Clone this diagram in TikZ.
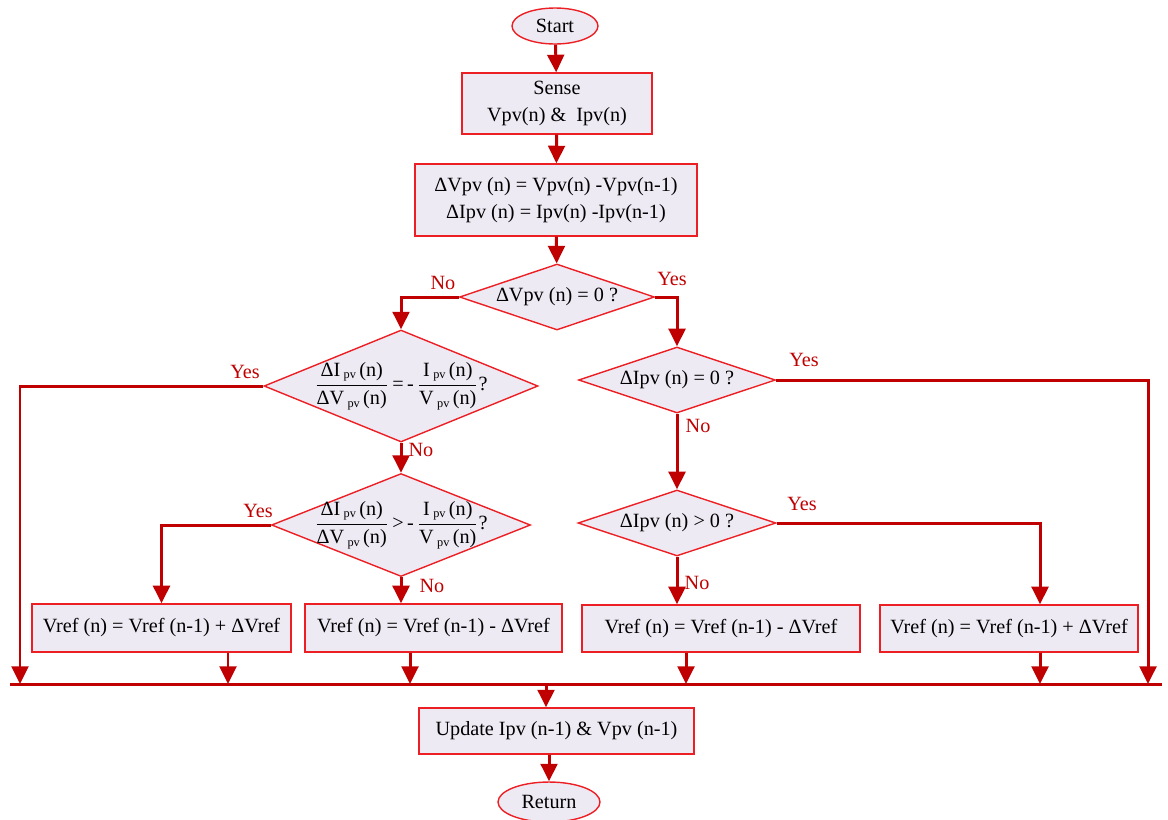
\documentclass[tikz,border=0pt]{standalone}
\usepackage{fontspec}
\setmainfont{Liberation Serif}
\usetikzlibrary{shapes.geometric,arrows.meta}
\definecolor{linered}{RGB}{192,0,0}
\definecolor{edgered}{RGB}{236,32,36}
\definecolor{boxfill}{RGB}{238,234,244}
\newcommand{\pvfrac}[2]{$\displaystyle\frac{\mbox{#1\,\raisebox{-0.25ex}{\scriptsize pv}\,(n)}}{\mbox{#2\,\raisebox{-0.25ex}{\scriptsize pv}\,(n)}}$}
\tikzset{
	block/.style={draw=edgered, fill=boxfill, line width=0.8pt, align=center, inner sep=2pt},
	term/.style={ellipse, draw=edgered, fill=boxfill, line width=0.8pt, inner sep=0pt},
	decision/.style={diamond, draw=edgered, fill=boxfill, line width=0.8pt, inner sep=0pt},
	flow/.style={draw=linered, line width=1.7pt, -{Triangle[width=9.5pt,length=10pt]}},
	wire/.style={draw=linered, line width=1.7pt},
	lbl/.style={text=linered, inner sep=0pt}
}
\begin{document}
\begin{tikzpicture}[x=0.02cm, y=-0.02cm, font=\fontsize{11.5}{15.5}\selectfont]
	\useasboundingbox (0,0) rectangle (1168,819);
	
	% terminals and blocks
	\node[term, minimum width=1.72cm, minimum height=0.72cm] (start) at (555,26) {Start};
	\node[block, minimum width=3.8cm, minimum height=1.22cm] (sense) at (557,103.5) {Sense\\Vpv(n) \&\ \ Ipv(n)};
	\node[block, minimum width=5.64cm, minimum height=1.44cm] (diff) at (556,200) {ΔVpv (n) = Vpv(n) -Vpv(n-1)\\ΔIpv (n) = Ipv(n) -Ipv(n-1)};
	
	% decisions
	\node[decision, minimum width=3.9cm, minimum height=1.32cm, label=center:{ΔVpv (n) = 0 ?}] (dv) at (557,297) {};
	\node[decision, minimum width=5.48cm, minimum height=2.24cm, label=center:{\pvfrac{ΔI}{ΔV}\,=\,-\,\pvfrac{I}{V}?}] (inc) at (401,386) {};
	\node[decision, minimum width=5.18cm, minimum height=2.06cm, label=center:{\pvfrac{ΔI}{ΔV}\,>\,-\,\pvfrac{I}{V}?}] (gt) at (401,525) {};
	\node[decision, minimum width=3.94cm, minimum height=1.32cm, label=center:{ΔIpv (n) = 0 ?}] (di) at (677,380) {};
	\node[decision, minimum width=3.96cm, minimum height=1.32cm, label=center:{ΔIpv (n) > 0 ?}] (dipos) at (677,523) {};
	
	% reference updates
	\node[block, minimum width=5.18cm, minimum height=0.96cm] (up1) at (161.5,628) {Vref (n) = Vref (n-1) + ΔVref};
	\node[block, minimum width=5.14cm, minimum height=0.96cm] (dn1) at (433.5,628) {Vref (n) = Vref (n-1) - ΔVref};
	\node[block, minimum width=5.56cm, minimum height=0.94cm] (dn2) at (721,628.5) {Vref (n) = Vref (n-1) - ΔVref};
	\node[block, minimum width=5.16cm, minimum height=0.94cm] (up2) at (1009,628.5) {Vref (n) = Vref (n-1) + ΔVref};
	
	\node[block, minimum width=5.5cm, minimum height=0.92cm] (store) at (556.5,731) {Update Ipv (n-1) \& Vpv (n-1)};
	\node[term, minimum width=2.04cm, minimum height=0.8cm] (ret) at (549,802) {Return};
	
	% collecting line
	\coordinate (busL) at (10,684);
	\coordinate (busR) at (1162,684);
	\coordinate (j0) at (20,684);
	\coordinate (j1) at (228,684);
	\coordinate (j2) at (410,684);
	\coordinate (j3) at (686,684);
	\coordinate (j4) at (1040,684);
	\coordinate (j5) at (1148,684);
	\coordinate (jm) at (546,684);
	
	% connectors
	\draw[flow] (start) -- (sense);
	\draw[flow] (sense) -- (diff);
	\draw[flow] (diff) -- (dv);
	\draw[flow] (dv.west) -| (inc.north);
	\draw[flow] (dv.east) -| (di.north);
	\draw[flow] (inc.west) -| (j0);
	\draw[flow] (inc.south) -- (gt.north);
	\draw[flow] (gt.west) -| (up1.north);
	\draw[flow] (gt.south) -- (gt.south |- dn1.north);
	\draw[flow] (di.east) -| (j5);
	\draw[flow] (di.south) -- (dipos.north);
	\draw[flow] (dipos.east) -| ([xshift=0.62cm]up2.north);
	\draw[flow] (dipos.south) -- (dipos.south |- dn2.north);
	\draw[flow] (up1.south -| j1) -- (j1);
	\draw[flow] (dn1.south -| j2) -- (j2);
	\draw[flow] (dn2.south -| j3) -- (j3);
	\draw[flow] (up2.south -| j4) -- (j4);
	\draw[wire] (busL) -- (busR);
	\draw[flow] (jm) -- (jm |- store.north);
	\draw[flow] (store.south -| ret.north) -- (ret.north);
	
	% branch labels
	\node[lbl] (no1) at (443,283) {No};
	\node[lbl] (yes1) at (672,279) {Yes};
	\node[lbl] (yes2) at (245,372) {Yes};
	\node[lbl] (no2) at (421,450) {No};
	\node[lbl] (yes3) at (258,511) {Yes};
	\node[lbl] (no3) at (432,586) {No};
	\node[lbl] (yes4) at (804,360) {Yes};
	\node[lbl] (no4) at (698,426) {No};
	\node[lbl] (yes5) at (802,504) {Yes};
	\node[lbl] (no5) at (697,583) {No};
\end{tikzpicture}
\end{document}
